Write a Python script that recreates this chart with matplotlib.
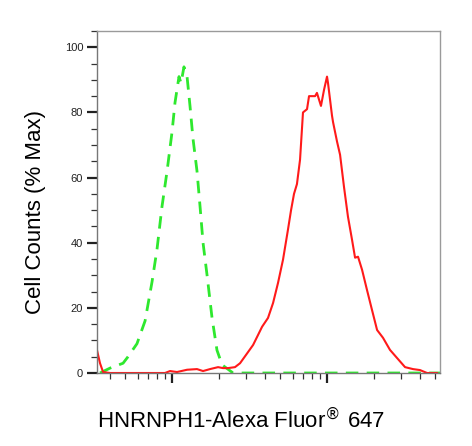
import matplotlib
matplotlib.use('Agg')
import matplotlib.pyplot as plt
import numpy as np
from matplotlib.ticker import FixedLocator, NullFormatter, MultipleLocator

plt.rcParams['font.family'] = ['Liberation Sans', 'DejaVu Sans']

# isotype control (green dashed): fluorescence intensity, % max
iso_x = [343, 398, 483, 520, 594, 670, 743, 800, 861, 929, 1000, 1045, 1109,
         1143, 1194, 1250, 1306, 1365, 1449, 1517, 1585, 1683, 1811, 1950,
         2104, 2477, 53580]
iso_y = [0, 1.5, 3, 5, 9, 16, 28, 38, 51, 62, 74, 83, 91,
         89, 94, 91, 82, 72, 62, 51, 40, 30, 17, 7,
         2.5, 0, 0]

# HNRNPH1 stained sample (red)
smp_x = [328, 343, 359, 398, 483, 901, 971, 1077, 1250, 1449, 1585, 1758,
         1982, 2133, 2297, 2548, 2747, 3048, 3334, 3591, 3811, 4161, 4487,
         4831, 5201, 5598, 5861, 6124, 6397, 6698, 6998, 7430, 7656, 8375,
         8610, 9141, 9572, 10000, 10150, 10770, 10940, 11610, 12140, 12880,
         13650, 14490, 15170, 15850, 16830, 18110, 19500, 21040, 22980,
         25480, 28310, 31880, 35870, 39810, 44180, 51290]
smp_y = [7, 3, 0.3, 0, 0, 0, 0.6, 0.3, 1.0, 1.2, 0.6, 1.2,
         1.8, 1.5, 1.5, 1.8, 3, 6, 8.6, 11.7, 14.2, 16.9, 21.5,
         27.7, 34.8, 44, 50, 55, 58, 65.5, 80, 81, 85, 85,
         86, 82, 87, 91, 89, 79, 77, 71, 67, 57,
         48, 41, 35.4, 35.7, 31.7, 25.5, 19.4, 13.2, 10.8,
         7.1, 4.6, 1.8, 1.2, 0.9, 0, 0]

fig = plt.figure(figsize=(4.72, 4.46), dpi=100)
ax = fig.add_axes([97/472, 1-373/446, 343/472, 342/446])

ax.plot(iso_x, iso_y, color='#2ee82e', lw=2.0, linestyle=(0, (4.5, 3)))
ax.plot(smp_x, smp_y, color='#ff1a1a', lw=1.5)

ax.set_xscale('log')
ax.set_xlim(328, 53580)
ax.set_ylim(0, 105)

ax.xaxis.set_major_locator(FixedLocator([1000, 10000]))
minors = [400, 500, 600, 700, 800, 900, 2000, 3000, 4000, 5000, 6000, 7000,
          8000, 9000, 20000, 30000, 40000, 50000]
ax.xaxis.set_minor_locator(FixedLocator(minors))
ax.xaxis.set_major_formatter(NullFormatter())
ax.xaxis.set_minor_formatter(NullFormatter())

ax.yaxis.set_major_locator(FixedLocator([0, 20, 40, 60, 80, 100]))
ax.yaxis.set_minor_locator(MultipleLocator(5))

ax.tick_params(axis='both', which='major', direction='out', length=7,
               width=1.6, color='#222222', labelsize=8, labelcolor='#222222', pad=3)
ax.tick_params(axis='both', which='minor', direction='out', length=4,
               width=0.9, color='#333333')

for s in ax.spines.values():
    s.set_color('#9a9a9a')
    s.set_linewidth(1.0)
ax.spines['left'].set_color('#777777')
ax.spines['bottom'].set_color('#777777')

ax.set_ylabel('Cell Counts (% Max)', fontsize=16, va='center')
ax.yaxis.set_label_coords(-0.18, 0.47)
ax.set_xlabel('HNRNPH1-Alexa Fluor$^{\u00ae}$ 647', fontsize=16,
              ha='left', va='center')
ax.xaxis.set_label_coords(0.0, -0.137)

fig.savefig('out.png', dpi=100)
